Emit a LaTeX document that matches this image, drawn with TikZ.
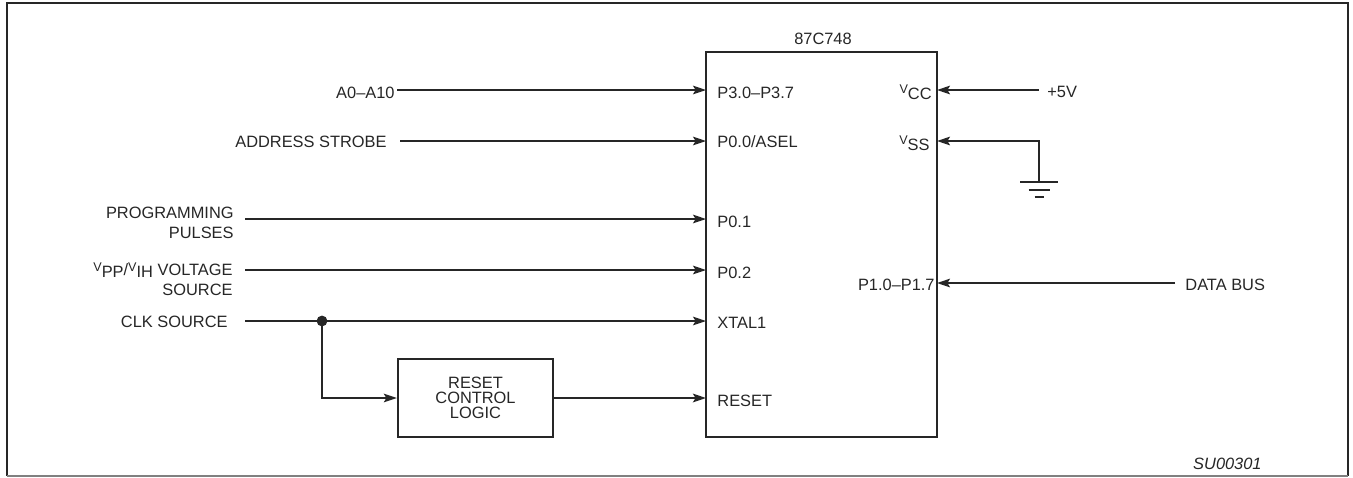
\documentclass[tikz,border=0pt]{standalone}
\usepackage{fontspec}
\setmainfont{Liberation Sans}
\usetikzlibrary{arrows.meta}

\definecolor{ink}{gray}{0.15}

\tikzset{
  wire/.style={draw=ink, line width=0.75pt},
  sig/.style={wire, -{Stealth[length=6.5pt,width=4.3pt,inset=1.3pt]}},
  lbl/.style={inner sep=0pt, text=ink, font=\fontsize{8.2}{10}\selectfont},
  block/.style={draw=ink, line width=1.2pt, inner sep=0pt},
}

% V with its lowered index, as in the data sheet
\newcommand{\volt}[1]{\raisebox{2pt}{\fontsize{6.3}{6.3}\selectfont V}\raisebox{-1pt}{#1}}

\begin{document}
\begin{tikzpicture}[x=0.5pt,y=-0.5pt]

  \useasboundingbox (0,0) rectangle (1353,477);

  % frame
  \draw[ink, line width=1pt] (7,476) -- (7,3) -- (1348,3) -- (1348,476);
  \draw[black!50, line width=0.6pt] (7,476) -- (1348,476);

  % the chip
  \node[block, minimum width=115.5pt, minimum height=192.5pt] (chip) at (821.5,244.5) {};
  \node[lbl] (chipname) at (823,39) {87C748};

  \coordinate (p30) at (706,90);
  \coordinate (p00) at (706,141);
  \coordinate (p01) at (706,219);
  \coordinate (p02) at (706,270);
  \coordinate (xtal) at (706,321);
  \coordinate (rst) at (706,398);
  \coordinate (vcc) at (937,90);
  \coordinate (vss) at (937,141);
  \coordinate (p10) at (937,283);

  \begin{scope}[every node/.style={lbl,anchor=west}]
    \node (lp30) at (717,92.5) {P3.0–P3.7};
    \node (lp00) at (717,141.5) {P0.0/ASEL};
    \node (lp01) at (717,221.5) {P0.1};
    \node (lp02) at (717,272.5) {P0.2};
    \node (lxtal) at (717,323) {XTAL1};
    \node (lrst) at (717,401) {RESET};
  \end{scope}

  \begin{scope}[every node/.style={lbl,anchor=east}]
    \node (lvcc) at (932,92) {\volt{CC}};
    \node (lvss) at (930,143) {\volt{SS}};
    \node (lp10) at (935,285) {P1.0–P1.7};
  \end{scope}

  % sources on the left
  \begin{scope}[every node/.style={lbl,anchor=east,align=right}]
    \node (addr) at (395,92.5) {A0–A10};
    \node (strobe) at (387,141.5) {ADDRESS STROBE};
    \node (prog) at (234,223) {PROGRAMMING\\PULSES};
    \node (vpp) at (233,279.5) {\volt{PP}/\volt{IH} VOLTAGE\hspace{3pt}\\SOURCE};
    \node (clk) at (228,322) {CLK SOURCE};
  \end{scope}

  \coordinate (addrout) at (397,90);
  \coordinate (strobeout) at (400,141);
  \coordinate (progout) at (245,219);
  \coordinate (vppout) at (245,270);
  \coordinate (clkout) at (245,321);
  \coordinate (clkdot) at (322,321);

  \node[block, minimum width=77.5pt, minimum height=39pt, align=center,
        lbl, font=\fontsize{8.2}{7.5}\selectfont] (resetlogic) at (475.5,398)
        {RESET\\CONTROL\\LOGIC};

  \draw[sig] (addrout) -- (p30);
  \draw[sig] (strobeout) -- (p00);
  \draw[sig] (progout) -- (p01);
  \draw[sig] (vppout) -- (p02);
  \draw[sig] (clkout) -- (xtal);
  \draw[sig] (clkdot) |- (resetlogic.west);
  \fill[ink] (clkdot) circle (2.7pt);
  \draw[sig, line width=1.1pt] (resetlogic.east) -- (rst);

  % supply and data bus on the right
  \coordinate (plus5) at (1039,90);
  \coordinate (gnd) at (1039,182);
  \coordinate (dbus) at (1175,283);
  \node[lbl,anchor=west] (plus5v) at (1047,92) {+5V};
  \node[lbl,anchor=west] (databus) at (1185,284.5) {DATA BUS};

  \draw[sig] (plus5) -- (vcc);
  \draw[sig] (gnd) |- (vss);
  \draw[sig] (dbus) -- (p10);

  % ground
  \draw[ink, line width=1.3pt] (gnd) ++(-19,0) -- ++(38,0);
  \draw[ink, line width=1.2pt] (gnd) ++(-10.5,8) -- ++(21,0);
  \draw[ink, line width=1.2pt] (gnd) ++(-4.5,15) -- ++(9,0);

  \node[lbl,anchor=east,font=\fontsize{8.2}{10}\selectfont\itshape] (figno) at (1262,464) {SU00301};

\end{tikzpicture}
\end{document}
